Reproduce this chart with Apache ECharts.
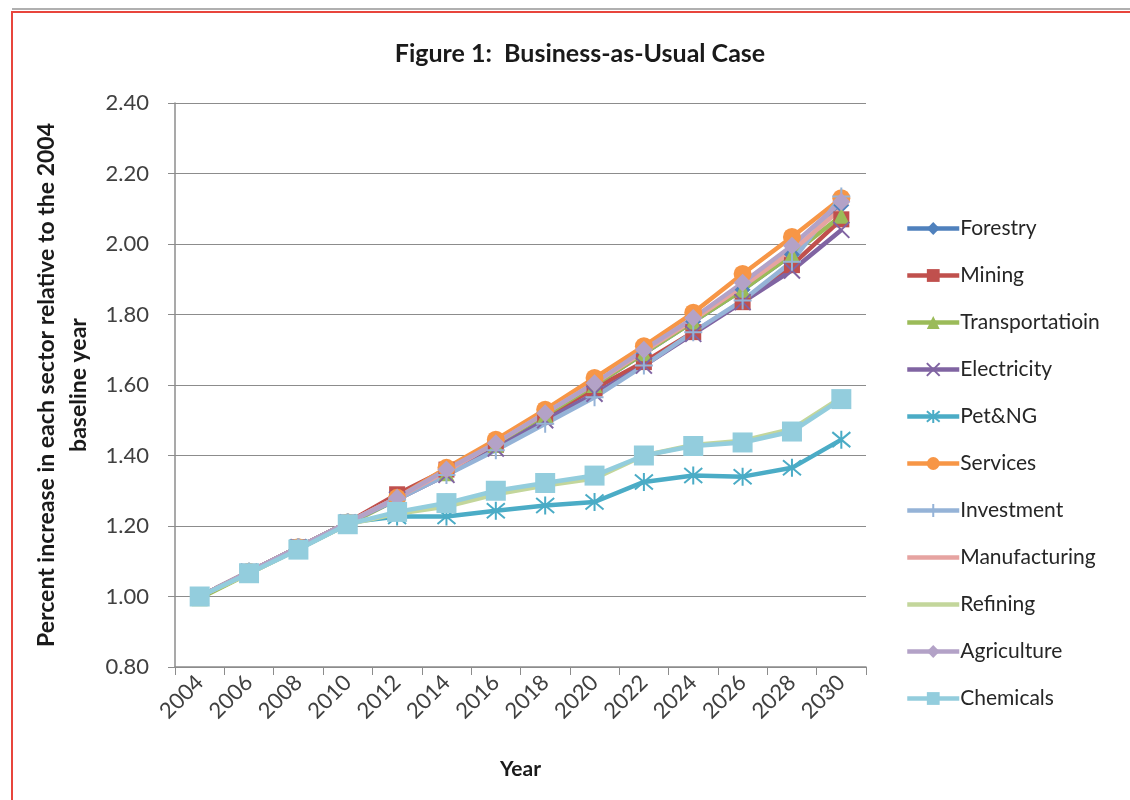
<!DOCTYPE html>
<html>
<head>
<meta charset="utf-8">
<script src="https://cdn.jsdelivr.net/npm/echarts@6/dist/echarts.min.js"></script>
<style>
    html, body { margin: 0; padding: 0; background: #fff; }
    #chart { width: 1130px; height: 800px; }
</style>
</head>
<body>
<div id="chart"></div>
<script>
// 年份
var years = ['2004', '2006', '2008', '2010', '2012', '2014', '2016', '2018', '2020', '2022', '2024', '2026', '2028', '2030'];
var yTicks = [0.8, 2.4, 0.2];   // min, max, interval

// 各部门数据
var forestry       = [1.00, 1.07, 1.14, 1.21, 1.28, 1.355, 1.435, 1.515, 1.60, 1.69, 1.78, 1.87, 1.97, 2.11];
var mining         = [1.00, 1.07, 1.14, 1.21, 1.29, 1.36, 1.43, 1.51, 1.59, 1.665, 1.75, 1.835, 1.94, 2.07];
var transportation = [0.995, 1.065, 1.135, 1.205, 1.275, 1.35, 1.43, 1.515, 1.60, 1.69, 1.78, 1.87, 1.97, 2.08];
var electricity    = [1.00, 1.07, 1.14, 1.21, 1.275, 1.345, 1.42, 1.50, 1.575, 1.655, 1.745, 1.835, 1.925, 2.04];
var petNG          = [1.00, 1.07, 1.14, 1.21, 1.227, 1.227, 1.243, 1.258, 1.268, 1.325, 1.343, 1.34, 1.365, 1.445];
var services       = [1.00, 1.07, 1.14, 1.21, 1.28, 1.365, 1.445, 1.53, 1.62, 1.71, 1.805, 1.915, 2.02, 2.13];
var investment     = [1.00, 1.07, 1.14, 1.21, 1.275, 1.345, 1.415, 1.49, 1.565, 1.655, 1.75, 1.84, 1.95, 2.135];
var manufacturing  = [1.00, 1.07, 1.14, 1.21, 1.28, 1.355, 1.435, 1.52, 1.605, 1.695, 1.785, 1.88, 1.98, 2.10];
var refining       = [1.00, 1.065, 1.135, 1.205, 1.235, 1.255, 1.29, 1.315, 1.335, 1.40, 1.43, 1.442, 1.475, 1.565];
var agriculture    = [1.00, 1.07, 1.14, 1.21, 1.28, 1.36, 1.435, 1.52, 1.605, 1.70, 1.79, 1.89, 1.995, 2.12];
var chemicals      = [1.00, 1.066, 1.133, 1.205, 1.24, 1.265, 1.30, 1.322, 1.343, 1.40, 1.427, 1.437, 1.468, 1.56];

var fontFamily = 'Lato, "Open Sans", sans-serif';

// 线形标记 (描边)
var xMark = 'path://M0,0L10,10M10,0L0,10';
var starMark = 'path://M0,0L10,10M10,0L0,10M5,-1L5,11';
var plusMark = 'path://M5,0L5,10M0,5L10,5';

function lineSeries(name, data, color, symbol, size, stroked) {
    var s = {
        name: name,
        type: 'line',
        data: data,
        symbol: symbol,
        symbolSize: size,
        showSymbol: symbol !== 'none',
        lineStyle: { color: color, width: 4.5 },
        itemStyle: { color: color },
        emphasis: { disabled: true },
        animation: false
    };
    if (stroked) {
        s.itemStyle = { color: 'none', borderColor: color, borderWidth: 2 };
    }
    return s;
}

// 无标记的系列, 图例只画线
function plainLegend(name) {
    return { name: name, itemStyle: { color: 'rgba(0,0,0,0)', borderWidth: 0, opacity: 0 } };
}

var chart = echarts.init(document.getElementById('chart'));

var opt = {
    backgroundColor: '#fff',
    animation: false,
    title: {
        text: 'Figure 1:  Business-as-Usual Case',
        left: 575,
        top: 36,
        textAlign: 'center',
        textStyle: { fontFamily: fontFamily, fontSize: 25, fontWeight: 'bold', color: '#1a1a1a' }
    },
    grid: { left: 175, right: 264, top: 103, bottom: 133 },
    legend: {
        orient: 'vertical',
        left: 900,
        top: 213,
        itemWidth: 52,
        itemHeight: 16,
        itemGap: 26,
        lineStyle: { width: 4.5 },
        textStyle: { fontFamily: fontFamily, fontSize: 21, color: '#262626', padding: [0, 0, 0, -4] },
        data: ['Forestry', 'Mining', 'Transportatioin', 'Electricity', 'Pet&NG', 'Services',
               'Investment', plainLegend('Manufacturing'), plainLegend('Refining'), 'Agriculture', 'Chemicals']
    },
    xAxis: {
        type: 'category',
        data: years,
        boundaryGap: true,
        name: 'Year',
        nameLocation: 'middle',
        nameGap: 92,
        nameTextStyle: { fontFamily: fontFamily, fontSize: 21, fontWeight: 'bold', color: '#1a1a1a' },
        axisLine: { lineStyle: { color: '#8c8c8c', width: 1.5 } },
        axisTick: { show: true, length: 8, lineStyle: { color: '#8c8c8c' } },
        axisLabel: { rotate: 45, fontFamily: fontFamily, fontSize: 22, color: '#404040', margin: 12 },
        splitLine: { show: false }
    },
    yAxis: {
        type: 'value',
        min: yTicks[0],
        max: yTicks[1],
        interval: yTicks[2],
        name: 'Percent increase in each sector relative to the 2004\nbaseline year',
        nameLocation: 'middle',
        nameRotate: 90,
        nameGap: 80,
        nameTextStyle: { fontFamily: fontFamily, fontSize: 23, fontWeight: 'bold', color: '#1a1a1a', lineHeight: 32 },
        axisLine: { show: true, lineStyle: { color: '#8c8c8c', width: 1.5 } },
        axisTick: { show: true, length: 7, lineStyle: { color: '#8c8c8c' } },
        axisLabel: {
            fontFamily: fontFamily, fontSize: 22, color: '#404040', margin: 26,
            formatter: function (v) { return v.toFixed(2); }
        },
        splitLine: { lineStyle: { color: '#8c8c8c', width: 1.2 } }
    },
    graphic: [{
        type: 'rect',
        shape: { x: 12, y: 12, width: 1140, height: 800 },
        style: { fill: 'none', stroke: '#e8453c', lineWidth: 2 },
        silent: true
    }, {
        type: 'line',
        shape: { x1: 12, y1: 9, x2: 1130, y2: 9 },
        style: { stroke: '#b0b0b0', lineWidth: 2 },
        silent: true
    }],
    series: [
        lineSeries('Forestry', forestry, '#4f81bd', 'diamond', 16),
        lineSeries('Mining', mining, '#c0504d', 'rect', 16),
        lineSeries('Transportatioin', transportation, '#9bbb59', 'triangle', 16),
        lineSeries('Electricity', electricity, '#8064a2', xMark, 16, true),
        lineSeries('Pet&NG', petNG, '#4bacc6', starMark, 18, true),
        lineSeries('Services', services, '#f79646', 'circle', 18),
        lineSeries('Investment', investment, '#95b3d7', plusMark, 18, true),
        lineSeries('Manufacturing', manufacturing, '#e6a3a1', 'none', 0),
        lineSeries('Refining', refining, '#c3d69b', 'none', 0),
        lineSeries('Agriculture', agriculture, '#b3a2c7', 'diamond', 18),
        lineSeries('Chemicals', chemicals, '#93cddd', 'rect', 20)
    ]
};

chart.setOption(opt);
</script>
</body>
</html>
